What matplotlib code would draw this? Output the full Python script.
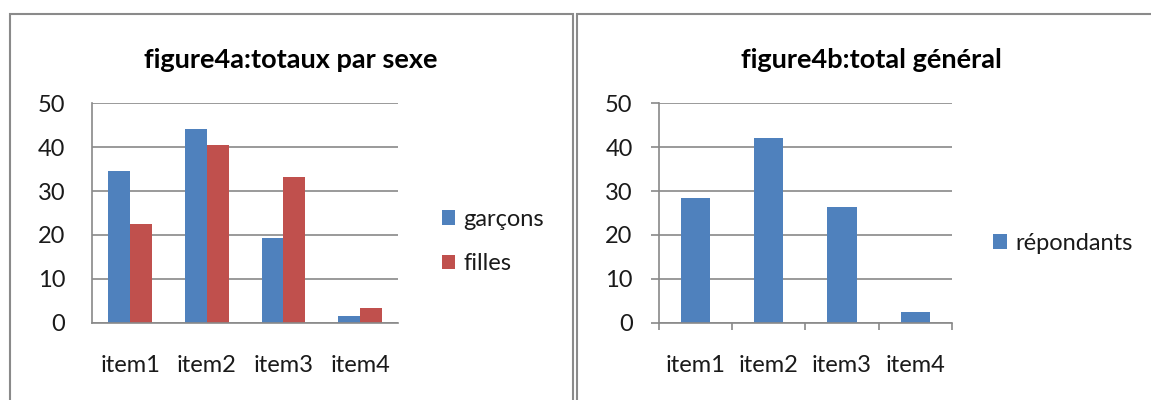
import matplotlib
matplotlib.use("Agg")
import matplotlib.pyplot as plt
from matplotlib.patches import Rectangle
import numpy as np

plt.rcParams['font.family'] = ['Lato', 'DejaVu Sans']

items = ["item1", "item2", "item3", "item4"]
garcons = [34.5, 44.2, 19.4, 1.5]
filles = [22.6, 40.4, 33.3, 3.3]
repondants = [28.4, 42.2, 26.4, 2.4]
yticks = [0, 10, 20, 30, 40, 50]

blue = "#4F81BD"
red = "#C0504D"
grid_c = "#898989"
txt_c = "#1a1a1a"
fs = 17

fig = plt.figure(figsize=(11.51, 4.0), dpi=100)

# panel frames
W, H = 1151, 400
def frame(x0, y0, x1, y1):
    fig.patches.append(Rectangle((x0 / W, 1 - y1 / H), (x1 - x0) / W, (y1 - y0) / H,
                                 transform=fig.transFigure, fill=False,
                                 edgecolor="#8a8a8a", linewidth=1.5))
frame(10, 14, 573, 420)
frame(577, 14, 1180, 420)

def style(ax, ticks_out):
    ax.set_ylim(0, 50)
    ax.set_xlim(-0.5, 3.5)
    ax.set_yticks(yticks)
    ax.yaxis.grid(True, color=grid_c, linewidth=1.2)
    ax.set_axisbelow(True)
    for s in ["top", "right"]:
        ax.spines[s].set_visible(False)
    for s in ["left", "bottom"]:
        ax.spines[s].set_color(grid_c)
        ax.spines[s].set_linewidth(1.2)
    ax.set_xticks(range(len(items)))
    ax.set_xticklabels(items)
    if ticks_out:
        ax.tick_params(axis="y", length=6, width=1.2, color=grid_c, pad=13,
                       labelsize=fs, labelcolor=txt_c)
        ax.tick_params(axis="x", which="major", length=0, pad=23,
                       labelsize=fs, labelcolor=txt_c)
        ax.set_xticks(np.arange(-0.5, 4, 1), minor=True)
        ax.tick_params(axis="x", which="minor", length=5, width=1.2, color=grid_c)
    else:
        ax.tick_params(axis="y", length=0, pad=19, labelsize=fs, labelcolor=txt_c)
        ax.tick_params(axis="x", length=0, pad=23, labelsize=fs, labelcolor=txt_c)

x = np.arange(len(items))

ax1 = fig.add_axes([0.0797, 0.1933, 0.2664, 0.5485])
bw = 0.285
ax1.bar(x - bw / 2, garcons, bw, color=blue, label="garçons")
ax1.bar(x + bw / 2, filles, bw, color=red, label="filles")
style(ax1, False)
ax1.legend(loc="center left", bbox_to_anchor=(0.3838, 0.396), bbox_transform=fig.transFigure,
           frameon=False, fontsize=fs, handlelength=0.56, handleheight=0.56,
           handletextpad=0.35, labelspacing=1.0, borderpad=0, borderaxespad=0,
           labelcolor=txt_c)
fig.text(291 / W, 1 - 60 / H, "figure4a:totaux par sexe", ha="center", va="center",
         fontsize=19.5, fontweight="bold", color="#000000")

ax2 = fig.add_axes([0.5726, 0.1933, 0.2543, 0.5485])
ax2.bar(x, repondants, 0.4, color=blue, label="répondants")
style(ax2, True)
ax2.legend(loc="center left", bbox_to_anchor=(0.8625, 0.3925), bbox_transform=fig.transFigure,
           frameon=False, fontsize=fs, handlelength=0.6, handleheight=0.6,
           handletextpad=0.35, borderpad=0, borderaxespad=0, labelcolor=txt_c)
fig.text(871 / W, 1 - 60 / H, "figure4b:total général", ha="center", va="center",
         fontsize=19.5, fontweight="bold", color="#000000")

fig.savefig("out.png", dpi=100)
